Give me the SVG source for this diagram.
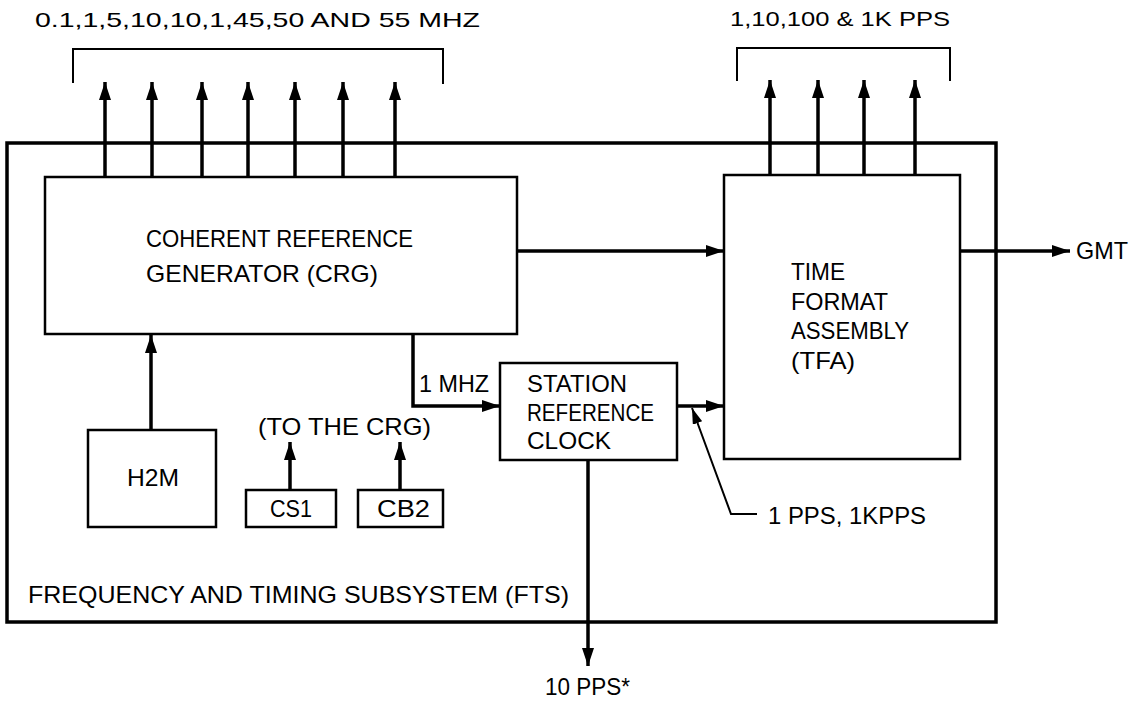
<svg xmlns="http://www.w3.org/2000/svg" width="1135" height="701" viewBox="0 0 1135 701">
<style>
.box{fill:none;stroke:#000;stroke-width:2.5}
.outer{fill:none;stroke:#000;stroke-width:3.5}
.ln{fill:none;stroke:#000;stroke-width:3.5}
.thin{fill:none;stroke:#000;stroke-width:2}
text{font-family:"Liberation Sans",Arial,sans-serif;font-size:24px;fill:#000}
.sm{font-size:21px}
</style>
<defs>
<marker id="ah" markerUnits="userSpaceOnUse" markerWidth="20" markerHeight="12" refX="18" refY="6" orient="auto" viewBox="0 0 20 12">
<path d="M0,0 L18,6 L0,12 z" fill="#000"/>
</marker>
<marker id="ahs" markerUnits="userSpaceOnUse" markerWidth="18" markerHeight="10" refX="16" refY="5" orient="auto" viewBox="0 0 18 10">
<path d="M0,0 L16,5 L0,10 z" fill="#000"/>
</marker>
</defs>
<rect width="1135" height="701" fill="#fff"/>

<g id="fts">
<rect class="outer" x="7" y="143" width="989" height="479"/>
<text x="28" y="603" textLength="541" lengthAdjust="spacingAndGlyphs">FREQUENCY AND TIMING SUBSYSTEM (FTS)</text>
</g>

<g id="crg">
<rect class="box" x="45" y="177" width="472" height="157"/>
<text x="146" y="247" textLength="267" lengthAdjust="spacingAndGlyphs">COHERENT REFERENCE</text>
<text x="146" y="282" textLength="232" lengthAdjust="spacingAndGlyphs">GENERATOR (CRG)</text>
</g>

<g id="tfa">
<rect class="box" x="724" y="175" width="236" height="284"/>
<text x="791" y="280" textLength="54" lengthAdjust="spacingAndGlyphs">TIME</text>
<text x="791" y="310" textLength="97" lengthAdjust="spacingAndGlyphs">FORMAT</text>
<text x="791" y="339" textLength="118" lengthAdjust="spacingAndGlyphs">ASSEMBLY</text>
<text x="791" y="369" textLength="64" lengthAdjust="spacingAndGlyphs">(TFA)</text>
</g>

<g id="src">
<rect class="box" x="500" y="363" width="177" height="97"/>
<text x="527" y="392" textLength="100" lengthAdjust="spacingAndGlyphs">STATION</text>
<text x="527" y="421" textLength="127" lengthAdjust="spacingAndGlyphs">REFERENCE</text>
<text x="527" y="449" textLength="84" lengthAdjust="spacingAndGlyphs">CLOCK</text>
</g>

<g id="h2m">
<rect class="box" x="88" y="430" width="128" height="97"/>
<text x="127" y="486" textLength="52" lengthAdjust="spacingAndGlyphs">H2M</text>
</g>

<g id="cs1">
<rect class="box" x="246" y="490" width="90" height="37"/>
<text x="270" y="517" textLength="42" lengthAdjust="spacingAndGlyphs">CS1</text>
</g>

<g id="cb2">
<rect class="box" x="358" y="490" width="85" height="37"/>
<text x="377" y="517" textLength="53" lengthAdjust="spacingAndGlyphs">CB2</text>
</g>

<g id="connectors">
<line class="ln" x1="105" y1="177" x2="105" y2="82" marker-end="url(#ah)"/>
<line class="ln" x1="152" y1="177" x2="152" y2="82" marker-end="url(#ah)"/>
<line class="ln" x1="202" y1="177" x2="202" y2="82" marker-end="url(#ah)"/>
<line class="ln" x1="248" y1="177" x2="248" y2="82" marker-end="url(#ah)"/>
<line class="ln" x1="295" y1="177" x2="295" y2="82" marker-end="url(#ah)"/>
<line class="ln" x1="343" y1="177" x2="343" y2="82" marker-end="url(#ah)"/>
<line class="ln" x1="395" y1="177" x2="395" y2="82" marker-end="url(#ah)"/>
<line class="ln" x1="770" y1="175" x2="770" y2="80" marker-end="url(#ah)"/>
<line class="ln" x1="818" y1="175" x2="818" y2="80" marker-end="url(#ah)"/>
<line class="ln" x1="864" y1="175" x2="864" y2="80" marker-end="url(#ah)"/>
<line class="ln" x1="915" y1="175" x2="915" y2="80" marker-end="url(#ah)"/>
<path class="thin" d="M73,83 V49 H443 V84"/>
<path class="thin" d="M737,81 V48 H950 V81"/>
<line class="ln" x1="517" y1="251" x2="724" y2="251" marker-end="url(#ah)"/>
<line class="ln" x1="960" y1="251" x2="1070" y2="251" marker-end="url(#ah)"/>
<line class="ln" x1="151" y1="430" x2="151" y2="335" marker-end="url(#ah)"/>
<line class="ln" x1="290" y1="490" x2="290" y2="442" marker-end="url(#ah)"/>
<line class="ln" x1="400" y1="490" x2="400" y2="442" marker-end="url(#ah)"/>
<path class="ln" d="M413,334 V406 H500" marker-end="url(#ah)"/>
<line class="ln" x1="677" y1="406" x2="724" y2="406" marker-end="url(#ah)"/>
<path class="thin" d="M757,514 H731 L692,408" marker-end="url(#ahs)"/>
<line class="ln" x1="588" y1="460" x2="588" y2="666" marker-end="url(#ah)"/>
</g>

<g id="labels">
<text class="sm" x="35" y="27" textLength="445" lengthAdjust="spacingAndGlyphs">0.1,1,5,10,10,1,45,50 AND 55 MHZ</text>
<text class="sm" x="730" y="26" textLength="220" lengthAdjust="spacingAndGlyphs">1,10,100 &amp; 1K PPS</text>
<text x="1076" y="259" textLength="52" lengthAdjust="spacingAndGlyphs">GMT</text>
<text x="419" y="392" textLength="70" lengthAdjust="spacingAndGlyphs">1 MHZ</text>
<text x="258" y="435" textLength="173" lengthAdjust="spacingAndGlyphs">(TO THE CRG)</text>
<text x="768" y="524" textLength="158" lengthAdjust="spacingAndGlyphs">1 PPS, 1KPPS</text>
<text x="545" y="695" textLength="85" lengthAdjust="spacingAndGlyphs">10 PPS*</text>
</g>
</svg>
